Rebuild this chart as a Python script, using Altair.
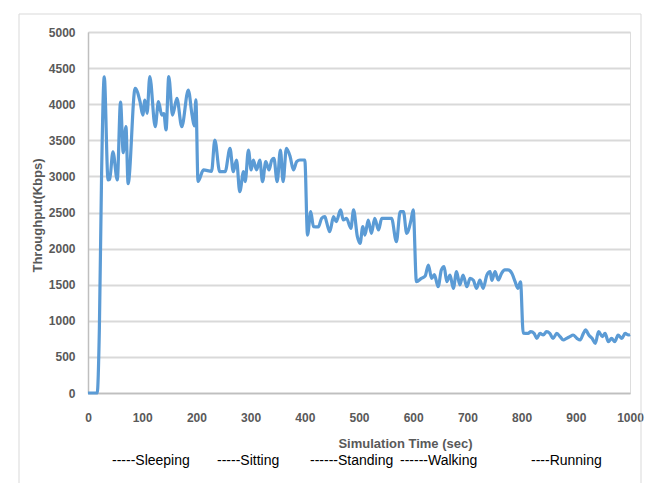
import altair as alt
import pandas as pd

# Simulation time (sec)
time_s = [0, 10, 17, 21, 25, 30, 37, 40, 46, 54, 60, 65, 70, 74, 87, 96, 101, 105, 109, 114,
          124, 130, 136, 140, 144, 149, 156, 164, 173, 185, 192, 196, 199, 203, 213, 228, 234,
          243, 253, 262, 268, 274, 280, 287, 290, 296, 301, 305, 311, 317, 322, 328, 334, 339,
          343, 349, 355, 360, 366, 373, 379, 385, 391, 400, 405, 411, 416, 425, 431, 437, 440,
          446, 453, 458, 466, 471, 477, 485, 490, 497, 502, 507, 511, 517, 523, 529, 536, 542,
          548, 560, 569, 576, 582, 588, 596, 600, 606, 615, 622, 628, 634, 639, 646, 652, 657,
          662, 668, 674, 680, 686, 692, 699, 705, 711, 717, 723, 729, 736, 742, 745, 751, 757,
          763, 769, 775, 782, 788, 793, 798, 803, 812, 817, 823, 828, 834, 840, 846, 852, 858,
          865, 871, 877, 883, 889, 895, 902, 908, 914, 918, 924, 930, 936, 942, 949, 954, 960,
          966, 972, 978, 985, 991, 997, 1000]
# Throughput (Kbps)
throughput = [0, 0, 0, 900, 3000, 4380, 2950, 2960, 3340, 2950, 4030, 3330, 3690, 2900, 4220, 4035,
              3850, 4058, 3874, 4381, 3688, 4035, 3850, 3870, 3643, 4381, 3850, 4081, 3688, 4197,
              3850, 3700, 4060, 2930, 3089, 3070, 3504, 3065, 3065, 3389, 3065, 3227, 2788, 3065,
              2927, 3366, 3089, 3227, 3089, 3227, 2927, 3204, 3089, 3227, 3250, 2927, 3366, 2927,
              3389, 3273, 3089, 3204, 3227, 3227, 2188, 2511, 2303, 2300, 2419, 2442, 2373, 2234,
              2442, 2373, 2535, 2396, 2419, 2281, 2535, 2165, 2073, 2303, 2188, 2396, 2211, 2419,
              2258, 2419, 2420, 2420, 2096, 2511, 2511, 2211, 2396, 2535, 1542, 1588, 1620, 1773,
              1588, 1640, 1472, 1704, 1749, 1542, 1634, 1450, 1680, 1496, 1634, 1472, 1588, 1560,
              1450, 1565, 1450, 1634, 1680, 1560, 1680, 1565, 1658, 1704, 1704, 1658, 1542, 1450,
              1540, 830, 826, 850, 826, 757, 826, 803, 850, 826, 757, 826, 780, 734, 757, 780, 803,
              757, 734, 826, 873, 803, 757, 688, 850, 780, 826, 711, 757, 711, 803, 757, 826, 803,
              810]

x_ticks = list(range(0, 1001, 100))
y_ticks = list(range(0, 5001, 500))
legend_labels = ["-----Sleeping", "-----Sitting", "------Standing", "------Walking", "----Running"]

df = pd.DataFrame({"t": time_s, "v": throughput})

W, H = 542, 361
FONT = "Liberation Sans"

line = alt.Chart(df).mark_line(
    color="#5b9bd5", strokeWidth=3.2, interpolate="monotone"
).encode(
    x=alt.X("t:Q", scale=alt.Scale(domain=[0, 1000], nice=False),
            axis=alt.Axis(values=x_ticks, format="d", title="Simulation Time (sec)", grid=False,
                          ticks=False, labelPadding=19, labelFontSize=12,
                          labelFontWeight="bold", labelColor="#595959",
                          labelFont=FONT, labelOverlap=False, labelFlush=False,
                          domainColor="#bfbfbf", domainWidth=1.5,
                          titleFont=FONT, titleFontSize=13, titleFontWeight="bold",
                          titleColor="#595959", titleX=317, titleY=50,
                          titleBaseline="middle", titleAlign="center")),
    y=alt.Y("v:Q", scale=alt.Scale(domain=[0, 5000], nice=False),
            axis=alt.Axis(values=y_ticks, format="d", title="Throughput(Kbps)", grid=True,
                          gridColor="#d9d9d9", gridWidth=2, ticks=False,
                          labelPadding=13, labelFontSize=12, labelFontWeight="bold",
                          labelColor="#595959", labelFont=FONT, labelFlush=False,
                          domainColor="#bfbfbf", domainWidth=1.5,
                          titleFont=FONT, titleFontSize=13, titleFontWeight="bold",
                          titleColor="#595959", titleX=-51, titleY=183,
                          titleAngle=-90, titleBaseline="middle", titleAlign="center")),
)

frame = alt.Chart(pd.DataFrame({"a": [0]})).mark_rect(
    fill="transparent", stroke="#d9d9d9", strokeWidth=1
).encode(x=alt.value(-69), x2=alt.value(553), y=alt.value(-18), y2=alt.value(470))

legend_x = [24, 129, 222, 312, 443]
legend_layers = []
for lab, lx in zip(legend_labels, legend_x):
    legend_layers.append(
        alt.Chart(pd.DataFrame({"label": [lab]})).mark_text(
            align="left", baseline="middle", font=FONT, fontSize=14, color="#000000"
        ).encode(text="label:N", x=alt.value(lx), y=alt.value(429))
    )

chart = alt.layer(frame, line, *legend_layers).properties(
    width=W, height=H,
    padding={"left": 88, "top": 32, "right": 25, "bottom": 90},
    autosize=alt.AutoSizeParams(type="none"),
).configure_view(stroke=None).configure(background="white")

chart.save("out.html", embed_options={"renderer": "svg", "actions": False})
